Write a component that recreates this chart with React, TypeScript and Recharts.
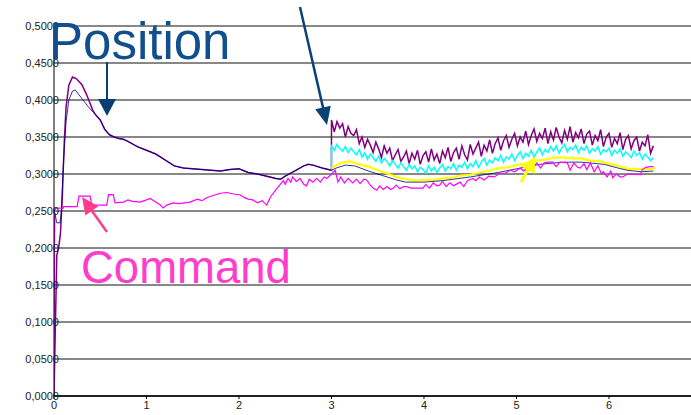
import React from "react";
import { LineChart, Line, XAxis, YAxis, CartesianGrid } from "recharts";

// ---------- data ----------
const xTicks = [0, 1, 2, 3, 4, 5, 6];
const yTicks = [0, 0.05, 0.1, 0.15, 0.2, 0.25, 0.3, 0.35, 0.4, 0.45, 0.5];

// Position (purple) – start-up phase until the step at t=3
const purpleHead: [number, number][] = [
  [0, 0], [0.03, 0.19], [0.05, 0.2], [0.07, 0.22], [0.09, 0.27], [0.11, 0.34], [0.13, 0.39],
  [0.16, 0.42], [0.2, 0.431], [0.24, 0.429], [0.3, 0.421], [0.35, 0.408], [0.42, 0.386],
];

// Position (navy) – start-up phase
const blueHead: [number, number][] = [
  [0, 0], [0.005, 0.19], [0.01, 0.247], [0.03, 0.234], [0.065, 0.234], [0.08, 0.25], [0.1, 0.31],
  [0.13, 0.37], [0.16, 0.4], [0.2, 0.412], [0.23, 0.4135], [0.27, 0.407], [0.32, 0.399],
  [0.37, 0.391], [0.42, 0.384],
];

// shared position trace between the peak and t=3
const positionMid: [number, number][] = [
  [0.45, 0.38], [0.5, 0.373], [0.55, 0.36], [0.6, 0.353], [0.65, 0.35], [0.7, 0.348], [0.75, 0.347],
  [0.8, 0.344], [0.9, 0.337], [1.0, 0.332], [1.1, 0.327], [1.2, 0.319], [1.3, 0.311], [1.4, 0.308],
  [1.5, 0.307], [1.6, 0.306], [1.7, 0.305], [1.8, 0.304], [1.9, 0.306], [2.0, 0.307], [2.1, 0.302],
  [2.2, 0.3], [2.3, 0.297], [2.4, 0.294], [2.45, 0.293], [2.5, 0.297], [2.6, 0.304], [2.7, 0.311],
  [2.75, 0.313], [2.8, 0.312], [2.9, 0.308], [3.0, 0.305],
];

// navy after t=3
const blueTail: [number, number][] = [
  [3.0, 0.305], [3.05, 0.308], [3.15, 0.312], [3.25, 0.311], [3.4, 0.304], [3.55, 0.298],
  [3.7, 0.292], [3.8, 0.289], [4.0, 0.289], [4.2, 0.291], [4.5, 0.296], [4.8, 0.302], [5.0, 0.307],
  [5.25, 0.313], [5.5, 0.316], [5.7, 0.316], [5.95, 0.313], [6.1, 0.308], [6.2, 0.305],
  [6.35, 0.303], [6.48, 0.304],
];

// sample times of the noisy traces after t=3
const tailTimes = [
  3.0, 3.03, 3.06, 3.09, 3.12, 3.15, 3.18, 3.21, 3.24, 3.27,
  3.3, 3.33, 3.36, 3.39, 3.42, 3.45, 3.48, 3.51, 3.54, 3.57,
  3.6, 3.63, 3.66, 3.69, 3.72, 3.75, 3.78, 3.81, 3.84, 3.87,
  3.9, 3.93, 3.96, 3.99, 4.02, 4.05, 4.08, 4.11, 4.14, 4.17,
  4.2, 4.23, 4.26, 4.29, 4.32, 4.35, 4.38, 4.41, 4.44, 4.47,
  4.5, 4.53, 4.56, 4.59, 4.62, 4.65, 4.68, 4.71, 4.74, 4.77,
  4.8, 4.83, 4.86, 4.89, 4.92, 4.95, 4.98, 5.01, 5.04, 5.07,
  5.1, 5.13, 5.16, 5.19, 5.22, 5.25, 5.28, 5.31, 5.34, 5.37,
  5.4, 5.43, 5.46, 5.49, 5.52, 5.55, 5.58, 5.61, 5.64, 5.67,
  5.7, 5.73, 5.76, 5.79, 5.82, 5.85, 5.88, 5.91, 5.94, 5.97,
  6.0, 6.03, 6.06, 6.09, 6.12, 6.15, 6.18, 6.21, 6.24, 6.27,
  6.3, 6.33, 6.36, 6.39, 6.42, 6.45, 6.48,
];

const purpleTail = [
  0.373, 0.357, 0.371, 0.362, 0.368, 0.35, 0.364, 0.355, 0.352, 0.36,
  0.341, 0.35, 0.336, 0.347, 0.339, 0.329, 0.343, 0.334, 0.322, 0.338,
  0.328, 0.335, 0.318, 0.326, 0.333, 0.317, 0.323, 0.331, 0.314, 0.328,
  0.32, 0.332, 0.313, 0.325, 0.33, 0.316, 0.334, 0.319, 0.327, 0.314,
  0.331, 0.322, 0.336, 0.317, 0.329, 0.335, 0.32, 0.338, 0.326, 0.319,
  0.34, 0.327, 0.335, 0.343, 0.324, 0.339, 0.331, 0.346, 0.328, 0.341,
  0.349, 0.332, 0.345, 0.352, 0.336, 0.347, 0.355, 0.338, 0.35, 0.343,
  0.358, 0.34, 0.352, 0.361, 0.344, 0.355, 0.348, 0.362, 0.341, 0.357,
  0.346, 0.363, 0.35, 0.342, 0.359, 0.347, 0.364, 0.343, 0.356, 0.349,
  0.361, 0.341, 0.354, 0.358, 0.339, 0.352, 0.345, 0.36, 0.337, 0.35,
  0.355, 0.336, 0.348, 0.341, 0.356, 0.333, 0.347, 0.352, 0.334, 0.345,
  0.35, 0.331, 0.343, 0.338, 0.353, 0.328, 0.338,
];

const cyanTail = [
  0.338, 0.332, 0.34, 0.334, 0.331, 0.337, 0.329, 0.335, 0.33, 0.326,
  0.333, 0.323, 0.329, 0.32, 0.327, 0.322, 0.317, 0.324, 0.315, 0.321,
  0.317, 0.311, 0.318, 0.313, 0.308, 0.315, 0.31, 0.305, 0.313, 0.307,
  0.311, 0.303, 0.309, 0.306, 0.301, 0.311, 0.304, 0.309, 0.302, 0.308,
  0.313, 0.304, 0.31, 0.307, 0.314, 0.305, 0.312, 0.309, 0.316, 0.307,
  0.314, 0.31, 0.318, 0.309, 0.316, 0.321, 0.312, 0.319, 0.315, 0.322,
  0.318, 0.325, 0.316, 0.323, 0.32, 0.327, 0.318, 0.325, 0.33, 0.321,
  0.328, 0.324, 0.332, 0.323, 0.33, 0.335, 0.326, 0.333, 0.329, 0.337,
  0.331, 0.338, 0.328, 0.335, 0.34, 0.33, 0.336, 0.333, 0.339, 0.329,
  0.336, 0.332, 0.338, 0.328, 0.334, 0.331, 0.337, 0.327, 0.333, 0.33,
  0.335, 0.325, 0.332, 0.328, 0.334, 0.324, 0.33, 0.327, 0.322, 0.331,
  0.325, 0.329, 0.32, 0.327, 0.323, 0.318, 0.322,
];

const yellowTimes = [
  3.0, 3.1, 3.2, 3.3, 3.4, 3.5, 3.6, 3.7, 3.8, 3.9, 4.0, 4.1, 4.2, 4.3, 4.4, 4.5, 4.6, 4.7,
  4.8, 4.9, 5.0, 5.1, 5.2, 5.3, 5.4, 5.5, 5.6, 5.7, 5.8, 5.9, 6.0, 6.1, 6.2, 6.3, 6.4, 6.5,
];
const yellowTail = [
  0.308, 0.315, 0.317, 0.313, 0.31, 0.305, 0.301, 0.296, 0.293, 0.291, 0.292, 0.292, 0.294, 0.295,
  0.298, 0.299, 0.302, 0.304, 0.308, 0.309, 0.312, 0.314, 0.318, 0.319, 0.322, 0.322, 0.321,
  0.321, 0.318, 0.317, 0.314, 0.311, 0.307, 0.307, 0.306, 0.308,
];

// Command (magenta)
const command: [number, number][] = [
  [0, 0], [0.005, 0.25], [0.02, 0.254], [0.1, 0.254], [0.1, 0.256], [0.25, 0.256], [0.27, 0.27],
  [0.39, 0.27], [0.41, 0.258], [0.57, 0.258], [0.59, 0.272], [0.64, 0.272], [0.66, 0.261],
  [0.75, 0.262], [0.8, 0.265], [0.85, 0.263], [0.93, 0.262], [1.0, 0.265], [1.04, 0.267],
  [1.1, 0.262], [1.15, 0.258], [1.18, 0.254], [1.22, 0.258], [1.29, 0.261], [1.35, 0.26],
  [1.47, 0.262], [1.55, 0.266], [1.6, 0.264], [1.65, 0.268], [1.72, 0.271], [1.8, 0.274],
  [1.87, 0.275], [1.94, 0.273], [2.01, 0.272], [2.06, 0.268], [2.1, 0.266], [2.15, 0.265],
  [2.2, 0.261], [2.25, 0.264], [2.3, 0.258], [2.34, 0.269], [2.4, 0.279], [2.44, 0.285],
  [2.48, 0.291], [2.5, 0.286], [2.53, 0.294], [2.56, 0.289], [2.58, 0.296], [2.62, 0.29],
  [2.66, 0.294], [2.7, 0.286], [2.73, 0.284], [2.76, 0.293], [2.8, 0.289], [2.84, 0.294],
  [2.88, 0.289], [2.92, 0.296], [2.95, 0.294], [3.0, 0.3], [3.04, 0.305], [3.07, 0.289],
  [3.1, 0.296], [3.14, 0.288], [3.18, 0.294], [3.23, 0.288], [3.27, 0.293], [3.31, 0.287],
  [3.35, 0.293], [3.38, 0.292], [3.42, 0.285], [3.45, 0.281], [3.49, 0.278], [3.52, 0.284],
  [3.56, 0.279], [3.6, 0.283], [3.64, 0.279], [3.67, 0.281], [3.7, 0.285], [3.74, 0.28],
  [3.78, 0.283], [3.81, 0.283], [3.86, 0.281], [3.9, 0.281], [3.99, 0.281], [4.02, 0.286],
  [4.06, 0.281], [4.1, 0.288], [4.14, 0.284], [4.17, 0.285], [4.2, 0.29], [4.24, 0.283],
  [4.28, 0.288], [4.32, 0.284], [4.39, 0.289], [4.43, 0.283], [4.47, 0.291], [4.53, 0.294],
  [4.56, 0.291], [4.6, 0.296], [4.65, 0.292], [4.7, 0.297], [4.76, 0.296], [4.82, 0.301],
  [4.88, 0.301], [4.93, 0.305], [4.98, 0.303], [5.04, 0.308], [5.08, 0.304], [5.12, 0.31],
  [5.17, 0.308], [5.22, 0.315], [5.26, 0.308], [5.3, 0.315], [5.34, 0.316], [5.39, 0.316],
  [5.43, 0.31], [5.47, 0.316], [5.55, 0.315], [5.58, 0.305], [5.62, 0.315], [5.66, 0.309],
  [5.69, 0.308], [5.73, 0.314], [5.76, 0.306], [5.8, 0.315], [5.84, 0.303], [5.88, 0.311],
  [5.92, 0.3], [5.94, 0.303], [5.98, 0.296], [6.02, 0.304], [6.04, 0.295], [6.08, 0.3],
  [6.12, 0.296], [6.15, 0.296], [6.2, 0.3], [6.34, 0.299], [6.36, 0.306], [6.4, 0.309],
  [6.44, 0.31], [6.48, 0.31],
];

// ---------- build series ----------
const pts = (arr: [number, number][]) => arr.map(([x, y]) => ({ x, y }));
const zipPts = (xs: number[], ys: number[]) => xs.map((x, i) => ({ x, y: ys[i] }));

const purpleData = [...pts(purpleHead), ...pts(positionMid), ...zipPts(tailTimes, purpleTail)];
const blueData = [...pts(blueHead), ...pts(positionMid), ...pts(blueTail)];
const cyanData = [{ x: 3.0, y: 0.305 }, ...zipPts(tailTimes, cyanTail)];
const yellowData = zipPts(yellowTimes, yellowTail);
const commandData = pts(command);

const W = 691;
const H = 415;
const FONT = "'Liberation Sans', Arial, Helvetica, sans-serif";

const YTick = (props: any) => {
  const { y, payload } = props;
  return (
    <text x={59} y={y} dy={4} textAnchor="end" fontSize={11} fontFamily={FONT} fill="#222">
      {Number(payload.value).toFixed(4).replace(".", ",")}
    </text>
  );
};

const XTick = (props: any) => {
  const { x, y, payload } = props;
  return (
    <text x={x} y={y} dy={8} textAnchor="middle" fontSize={11} fontFamily={FONT} fill="#222">
      {payload.value}
    </text>
  );
};

const Arrow = ({ x1, y1, x2, y2, color, width, headLen, headHalf }: any) => {
  const dx = x2 - x1;
  const dy = y2 - y1;
  const len = Math.hypot(dx, dy);
  const ux = dx / len;
  const uy = dy / len;
  const bx = x2 - ux * headLen;
  const by = y2 - uy * headLen;
  const px = -uy;
  const py = ux;
  return (
    <g>
      <line x1={x1} y1={y1} x2={bx + ux * 2} y2={by + uy * 2} stroke={color} strokeWidth={width} />
      <polygon
        points={`${x2},${y2} ${bx + px * headHalf},${by + py * headHalf} ${bx - px * headHalf},${by - py * headHalf}`}
        fill={color}
      />
    </g>
  );
};

export default function App() {
  return (
    <div style={{ position: "absolute", left: 0, top: 0, width: W, height: H, background: "#fff" }}>
      <LineChart width={W} height={H} margin={{ top: 26, right: 0, left: 0, bottom: 0 }}>
        <CartesianGrid horizontal={true} vertical={false} stroke="#111" strokeWidth={1} />
        <XAxis
          type="number"
          dataKey="x"
          domain={[0, 6.887]}
          ticks={xTicks}
          allowDataOverflow
          height={19}
          tickSize={3}
          tickMargin={2}
          tick={<XTick />}
          axisLine={{ stroke: "#000", strokeWidth: 1.5 }}
          tickLine={{ stroke: "#000" }}
        />
        <YAxis
          type="number"
          dataKey="y"
          domain={[0, 0.5]}
          ticks={yTicks}
          width={54}
          tick={<YTick />}
          tickLine={false}
          axisLine={{ stroke: "#000", strokeWidth: 1 }}
        />
        <Line data={purpleData} dataKey="y" type="linear" stroke="#800080" strokeWidth={1.5} dot={false} isAnimationActive={false} />
        <Line data={cyanData} dataKey="y" type="linear" stroke="#00ffff" strokeWidth={1.5} dot={false} isAnimationActive={false} />
        <Line data={yellowData} dataKey="y" type="linear" stroke="#ffff00" strokeWidth={2.2} dot={false} isAnimationActive={false} />
        <Line data={blueData} dataKey="y" type="linear" stroke="#000080" strokeWidth={1} strokeOpacity={0.8} dot={false} isAnimationActive={false} />
        <Line data={commandData} dataKey="y" type="linear" stroke="#ff00ff" strokeWidth={1.2} dot={false} isAnimationActive={false} />
      </LineChart>
      <svg
        width={W}
        height={H}
        style={{ position: "absolute", left: 0, top: 0, pointerEvents: "none" }}
      >
        <text x={49} y={59} fontSize={51} fontFamily={FONT} fill="#104f8c">
          Position
        </text>
        <Arrow x1={107} y1={62} x2={107} y2={116} color="#083f72" width={2} headLen={17} headHalf={9} />
        <Arrow x1={300} y1={7} x2={327} y2={125} color="#0b4276" width={2.5} headLen={18} headHalf={8} />
        <text x={81} y={283} fontSize={45.5} fontFamily={FONT} fill="#ff3ccc">
          Command
        </text>
        <Arrow x1={107} y1={232} x2={82} y2={197} color="#ff3d8b" width={2.5} headLen={17} headHalf={8} />
        <Arrow x1={521} y1={182} x2={535} y2={157} color="#ffff00" width={3} headLen={15} headHalf={8} />
      </svg>
    </div>
  );
}
